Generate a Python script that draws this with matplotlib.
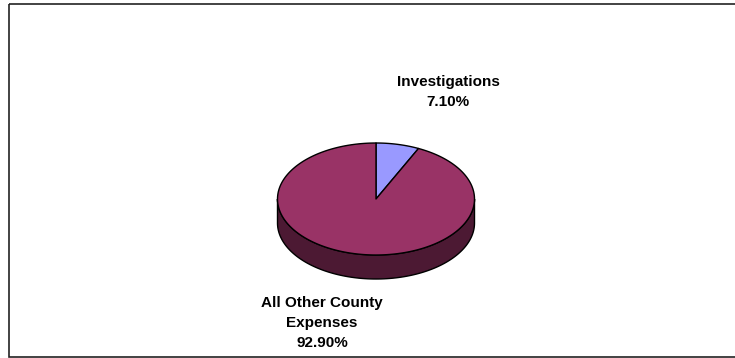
import matplotlib.pyplot as plt
import numpy as np
from matplotlib.patches import Polygon, Rectangle

labels = ["Investigations", "All Other County\nExpenses"]
values = [7.10, 92.90]
colors = ["#9999ff", "#993366"]
sides = ["#4c4c80", "#4c1933"]

plt.rcParams['font.family'] = ['Liberation Sans', 'DejaVu Sans']

fig = plt.figure(figsize=(7.35, 3.58), dpi=100)
ax = fig.add_axes([0, 0, 1, 1])
ax.set_xlim(0, 735)
ax.set_ylim(358, 0)
ax.axis('off')

# pie geometry in pixels
cx, cy = 376, 199
rx, ry = 98.5, 56
depth = 24


def rim(a0, a1, n=200):
    # angles measured clockwise from 12 o'clock, in degrees
    t = np.radians(np.linspace(a0, a1, n))
    return np.column_stack([cx + rx * np.sin(t), cy - ry * np.cos(t)])


bounds = np.concatenate([[0], np.cumsum(values)]) / sum(values) * 360

# side wall, only the front half (90..270 deg) is visible
for i in range(len(values)):
    a0 = max(bounds[i], 90)
    a1 = min(bounds[i + 1], 270)
    if a1 <= a0:
        continue
    top = rim(a0, a1)
    bot = top[::-1] + [0, depth]
    ax.add_patch(Polygon(np.vstack([top, bot]), closed=True,
                         facecolor=sides[i], edgecolor='black', lw=1))

# top face
for i in range(len(values)):
    pts = np.vstack([[cx, cy], rim(bounds[i], bounds[i + 1])])
    ax.add_patch(Polygon(pts, closed=True, facecolor=colors[i],
                         edgecolor='black', lw=1, joinstyle='round'))

label_pos = [(448, 92), (322, 323)]
for lab, v, (x, y) in zip(labels, values, label_pos):
    ax.text(x, y, f"{lab}\n{v:.2f}%", ha='center', va='center',
            fontsize=11, fontweight='bold', linespacing=1.58)

# chart frame
ax.add_patch(Rectangle((9, 3.5), 740, 353, fill=False,
                       edgecolor='#222222', lw=1.2, clip_on=False))

fig.savefig("out.png", dpi=100)
